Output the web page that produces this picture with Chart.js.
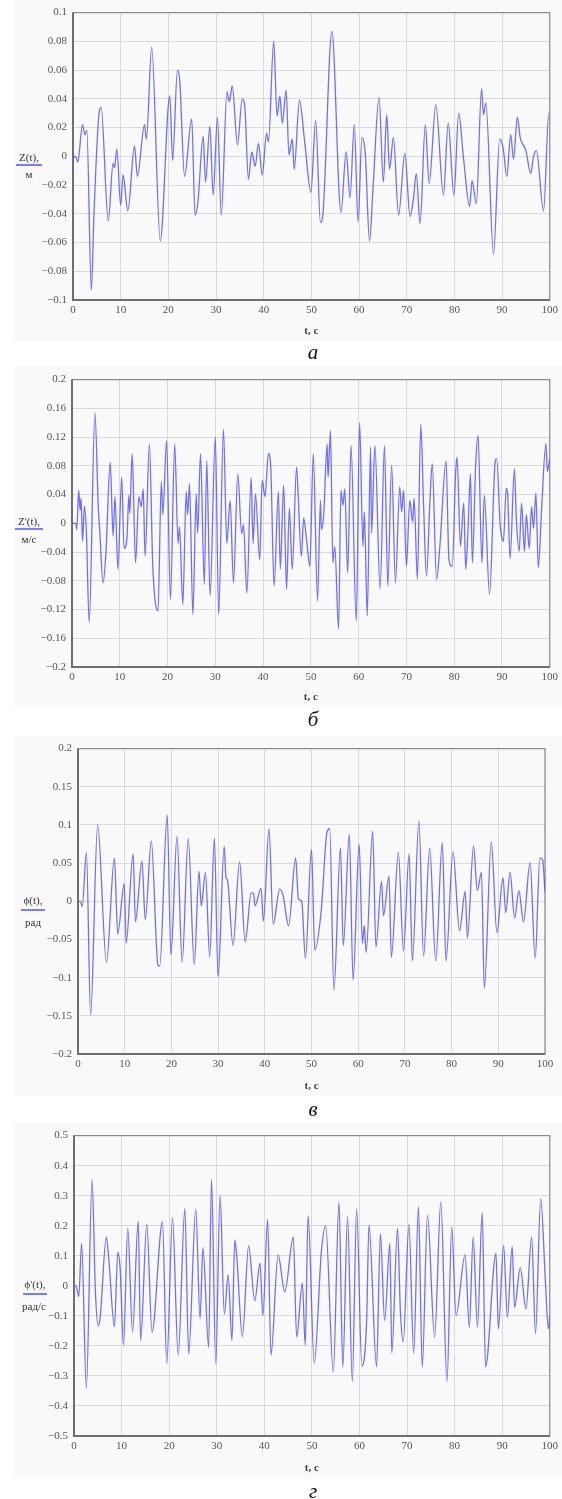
<!DOCTYPE html>
<html><head><meta charset="utf-8">
<script src="https://cdn.jsdelivr.net/npm/chart.js@4.4.0/dist/chart.umd.min.js"></script>
<style>
html,body{margin:0;padding:0;background:#fff;width:562px;height:1499px;overflow:hidden;position:relative;font-family:'Liberation Serif','DejaVu Serif',serif;}
canvas{position:absolute;}
.cap{position:absolute;font-style:italic;font-size:21px;line-height:1;transform:translate(-50%,-50%);color:#111;}
.ylab{position:absolute;font-size:11px;color:#333;line-height:1;transform:translate(-50%,-50%);white-space:nowrap;}
.ul{position:absolute;height:2px;background:#7b7bff;}
</style></head><body>
<canvas id="c1"></canvas><canvas id="c2"></canvas><canvas id="c3"></canvas><canvas id="c4"></canvas>
<div class="ylab" style="left:29px;top:157px">Z(t),</div><div class="ul" style="left:16px;top:164px;width:26px"></div><div class="ylab" style="left:29px;top:174px">м</div>
<div class="ylab" style="left:29px;top:521px">Z'(t),</div><div class="ul" style="left:15px;top:528px;width:28px"></div><div class="ylab" style="left:29px;top:539px">м/с</div>
<div class="ylab" style="left:33px;top:900px">ϕ(t),</div><div class="ul" style="left:21px;top:909px;width:24px"></div><div class="ylab" style="left:33px;top:922px">рад</div>
<div class="ylab" style="left:35px;top:1284px">ϕ'(t),</div><div class="ul" style="left:23px;top:1293px;width:24px"></div><div class="ylab" style="left:34px;top:1306px">рад/с</div>
<div class="cap" style="left:313px;top:352px">а</div>
<div class="cap" style="left:313px;top:719px">б</div>
<div class="cap" style="left:313px;top:1109px">в</div>
<div class="cap" style="left:313px;top:1491px">г</div>
<script>
// ---- data (time in s, value) ----
const tTicks = [0,10,20,30,40,50,60,70,80,90,100];
const zTicks = [-0.1,-0.08,-0.06,-0.04,-0.02,0,0.02,0.04,0.06,0.08,0.1];
const dzTicks = [-0.2,-0.16,-0.12,-0.08,-0.04,0,0.04,0.08,0.12,0.16,0.2];
const phiTicks = [-0.2,-0.15,-0.1,-0.05,0,0.05,0.1,0.15,0.2];
const dphiTicks = [-0.5,-0.4,-0.3,-0.2,-0.1,0,0.1,0.2,0.3,0.4,0.5];

const zSeries = [[0,0],[0.7,-0.001],[1.0,-0.004],[2.0,0.022],[2.5,0.015],[2.9,0.018],[3.85,-0.093],[4.4,-0.04],[5.5,0.031],[5.9,0.034],[7.4,-0.045],[8.4,-0.005],[8.7,-0.008],[9.2,0.005],[10.0,-0.034],[10.5,-0.013],[11.5,-0.038],[12.9,0.007],[13.5,-0.014],[15.0,0.022],[15.4,0.012],[16.5,0.076],[18.3,-0.059],[20.3,0.042],[20.9,-0.003],[21.9,0.060],[22.4,0.052],[23.4,-0.014],[24.9,0.026],[25.6,-0.041],[26.2,-0.032],[27.3,0.014],[27.8,-0.018],[28.7,0.021],[29.4,-0.027],[30.3,0.027],[31.1,-0.041],[32.3,0.045],[32.8,0.038],[33.4,0.049],[34.5,0.008],[35.5,0.040],[36.0,0.036],[36.8,-0.016],[37.5,0.003],[38.2,-0.007],[38.9,0.009],[39.7,-0.013],[40.6,0.016],[41.0,0.010],[42.1,0.080],[42.8,0.028],[43.4,0.042],[43.9,0.023],[44.7,0.046],[45.3,0.001],[46.0,0.012],[46.4,-0.009],[47.5,0.039],[48.6,0.010],[49.9,-0.025],[50.9,0.025],[51.9,-0.046],[52.4,-0.041],[54.3,0.087],[56.2,-0.039],[57.3,0.003],[58.1,-0.029],[59.0,0.022],[59.8,-0.046],[60.6,0.013],[61.3,0.002],[62.2,-0.059],[62.9,-0.024],[64.2,0.041],[65.1,-0.018],[65.8,0.029],[66.4,-0.009],[67.2,0.013],[68.3,-0.041],[69.6,0.002],[70.7,-0.042],[71.4,-0.030],[72.0,-0.012],[72.8,-0.047],[73.9,0.022],[74.7,-0.019],[76.1,0.036],[77.7,-0.027],[78.7,0.023],[79.9,-0.027],[80.9,0.030],[81.9,-0.001],[83.2,-0.035],[83.7,-0.017],[84.6,-0.033],[85.7,0.047],[86.1,0.029],[86.6,0.037],[88.2,-0.068],[89.5,0.012],[90.2,0.006],[91.0,-0.014],[91.8,0.015],[92.4,-0.002],[93.2,0.027],[93.8,0.013],[95.0,0.004],[96.0,-0.012],[96.6,0.0],[97.2,0.004],[98.7,-0.038],[99.8,0.030],[100,0.030]];

const dzSeries = [[0,0],[0.8,0],[1.0,-0.009],[1.4,0.046],[1.7,0.018],[1.9,0.035],[2.2,-0.025],[2.6,0.024],[3.0,-0.01],[3.6,-0.138],[4.8,0.154],[5.5,0.023],[5.8,-0.009],[6.5,-0.083],[7.1,-0.041],[8.0,0.085],[8.6,-0.018],[9.0,0.037],[9.6,-0.064],[10.4,0.064],[10.9,-0.035],[11.5,-0.021],[11.9,0.039],[12.1,0.014],[12.6,0.097],[13.3,-0.055],[14.0,0.037],[14.5,0.023],[14.9,0.048],[15.3,-0.046],[16.2,0.110],[16.9,-0.058],[18.0,-0.122],[18.7,0.058],[19.0,0.012],[19.8,0.115],[20.6,-0.106],[21.5,0.110],[22.2,-0.028],[22.5,-0.005],[23.2,-0.113],[23.9,0.044],[24.2,0.012],[24.6,0.055],[25.3,-0.127],[26.0,0.041],[26.3,-0.014],[26.9,0.097],[27.7,-0.085],[28.2,0.087],[28.9,-0.101],[30.0,0.12],[30.7,-0.127],[31.7,0.131],[32.4,-0.028],[33.1,0.032],[33.8,-0.083],[34.7,0.069],[35.5,-0.014],[35.9,-0.002],[36.6,-0.097],[37.5,0.064],[37.9,-0.028],[38.4,0.041],[39.3,-0.051],[39.8,0.060],[40.4,0.037],[41.1,0.097],[41.6,0.078],[42.3,-0.087],[43.2,0.044],[43.6,-0.064],[44.3,0.053],[44.9,-0.092],[45.5,0.021],[46.1,-0.064],[47.0,0.078],[47.3,0.046],[48.0,-0.046],[48.5,0.007],[49.1,-0.023],[49.8,-0.060],[50.5,0.097],[51.4,-0.108],[52.0,0.032],[52.2,-0.009],[52.7,0.014],[53.4,0.110],[53.6,0.064],[54.1,0.129],[54.6,-0.055],[55.0,-0.032],[55.8,-0.147],[56.3,0.046],[56.7,0.025],[57.1,0.048],[57.7,-0.069],[58.4,0.108],[59.5,-0.136],[60.2,0.140],[60.9,-0.032],[61.2,0.016],[61.8,-0.129],[62.5,0.106],[62.7,-0.014],[63.4,0.108],[64.5,-0.092],[65.4,0.108],[66.1,-0.087],[66.9,0.081],[67.7,-0.083],[68.6,0.051],[69.0,0.016],[69.4,0.046],[70.0,-0.060],[70.7,0.032],[71.3,0.002],[71.6,0.035],[72.3,-0.078],[73.0,0.138],[73.6,0.023],[74.2,-0.074],[74.9,0.028],[75.4,0.083],[76.3,-0.078],[77.0,-0.032],[78.3,0.087],[78.9,-0.051],[79.6,-0.060],[80.3,0.071],[80.6,0.092],[81.3,-0.032],[82.0,0.028],[82.4,-0.064],[82.9,-0.009],[83.4,0.069],[83.8,-0.055],[84.5,0.083],[85.0,0.122],[85.8,-0.055],[86.3,0.039],[87.4,-0.099],[88.6,0.087],[88.9,0.090],[89.6,0],[89.9,-0.018],[90.3,-0.025],[90.9,0.049],[91.2,0.039],[91.7,-0.049],[92.6,0.076],[93.0,0.007],[93.6,-0.039],[94.1,0.028],[94.7,-0.039],[95.1,0.012],[95.7,-0.035],[96.2,0.023],[96.6,-0.007],[97.1,0.042],[97.6,-0.062],[98.3,0.021],[99.2,0.111],[99.5,0.072],[100,0.09]];

const phiSeries = [[0,0],[0.5,0],[0.9,-0.007],[1.8,0.064],[2.7,-0.149],[4.2,0.100],[6.1,-0.080],[7.8,0.057],[8.5,-0.043],[9.9,0.023],[10.3,-0.055],[11.8,0.062],[12.3,-0.027],[13.7,0.053],[14.4,-0.024],[15.7,0.079],[17.1,-0.083],[17.5,-0.085],[19.1,0.113],[19.9,-0.070],[21.2,0.085],[22.3,-0.080],[23.6,0.082],[24.9,-0.083],[25.9,0.039],[26.4,-0.006],[27.3,0.038],[28.2,-0.073],[29.2,0.083],[30.0,-0.099],[31.3,0.072],[31.7,0.031],[32.0,0.028],[33.2,-0.058],[34.6,0.052],[35.8,-0.053],[37.1,0.011],[37.6,0.010],[37.9,-0.006],[39.2,0.017],[39.7,-0.026],[40.9,0.095],[41.8,-0.030],[43.2,0.016],[43.9,0.008],[45.1,-0.032],[46.6,0.057],[47.2,0.003],[47.9,0.0],[48.7,-0.075],[50.0,0.068],[50.7,-0.064],[52.1,-0.011],[53.3,0.090],[53.9,0.095],[54.8,-0.116],[56.2,0.070],[56.8,-0.058],[58.1,0.088],[58.9,-0.103],[60.2,0.075],[60.9,-0.055],[61.3,-0.032],[61.7,-0.067],[63.1,0.092],[63.8,-0.060],[65.0,0.026],[65.4,-0.019],[66.6,0.033],[67.1,-0.073],[68.6,0.064],[69.7,-0.065],[70.9,0.062],[71.6,-0.078],[73.0,0.105],[74.0,-0.072],[75.3,0.070],[76.6,-0.078],[78.0,0.077],[78.8,-0.078],[80.3,0.065],[81.7,-0.039],[82.9,0.013],[83.4,-0.048],[84.7,0.073],[85.5,0.014],[86.4,0.038],[87.0,-0.114],[88.5,0.078],[89.7,-0.041],[91.0,0.031],[91.6,-0.015],[92.5,0.038],[93.5,-0.022],[94.4,0.014],[95.4,-0.027],[96.8,0.051],[97.9,-0.075],[98.9,0.057],[99.5,0.054],[100,0.012]];

const dphiSeries = [[0,0],[0.4,0],[1.0,-0.035],[1.6,0.141],[2.6,-0.341],[3.8,0.354],[4.5,-0.02],[5.1,-0.133],[5.5,-0.105],[6.8,0.163],[7.3,0.092],[8.5,-0.136],[9.2,0.111],[9.7,0.058],[10.4,-0.198],[11.3,0.191],[12.3,-0.154],[13.5,0.216],[14.0,-0.182],[15.3,0.204],[16.4,-0.154],[18.6,0.213],[19.5,-0.259],[20.7,0.227],[21.9,-0.231],[23.3,0.257],[24.1,-0.226],[25.6,0.255],[26.5,-0.11],[27.1,0.127],[28.3,-0.205],[28.9,0.354],[29.8,-0.259],[30.7,0.301],[31.6,-0.094],[32.4,0.036],[33.2,-0.182],[33.8,0.152],[34.2,0.10],[35.4,-0.169],[36.7,0.134],[38.0,-0.05],[39.1,0.075],[39.7,-0.099],[40.7,0.222],[41.4,-0.231],[42.9,0.103],[44.3,-0.02],[46.1,0.163],[46.8,-0.171],[48.0,0.01],[48.6,-0.198],[49.2,0.233],[50.5,-0.257],[52.0,0.114],[52.9,0.200],[54.5,-0.286],[55.7,0.277],[56.5,-0.270],[57.5,0.230],[58.5,-0.319],[59.4,0.255],[60.5,-0.267],[61.5,-0.121],[62.0,0.202],[63.6,-0.270],[64.4,0.174],[65.3,-0.116],[66.4,0.141],[66.8,-0.224],[68.0,0.191],[68.6,-0.083],[69.2,-0.187],[70.4,0.204],[71.4,-0.224],[72.4,0.263],[73.2,-0.270],[74.3,0.235],[75.8,-0.171],[77.1,0.279],[78.4,-0.319],[79.4,0.196],[80.3,-0.099],[82.2,0.103],[83.1,-0.138],[83.9,0.163],[84.8,-0.138],[85.8,0.244],[86.5,-0.270],[88.7,0.108],[89.2,-0.143],[90.3,0.134],[91.1,-0.105],[92.1,0.130],[92.6,-0.072],[93.8,0.060],[95.0,-0.077],[96.2,0.163],[97.0,-0.160],[98.1,0.290],[99.1,0.01],[99.7,-0.143],[100,-0.10]];

// ---- chart construction ----
function fmt(v){ if (Math.abs(v) < 1e-9) return '0'; return (v < 0 ? '\u2212' : '') + String(Math.abs(v)); }

const framePlugin = {
  id: 'frame',
  beforeDraw(chart){ const c = chart.ctx; c.save(); c.fillStyle = '#f9f9f9'; c.fillRect(0,0,chart.width,chart.height); c.restore(); },
  beforeDatasetsDraw(chart){
    const a = chart.chartArea, c = chart.ctx; c.save();
    c.strokeStyle = '#8a8a8a'; c.lineWidth = 1.2; c.strokeRect(a.left, a.top, a.right-a.left, a.bottom-a.top);
    c.strokeStyle = '#6e6e6e'; c.lineWidth = 2; c.beginPath();
    c.moveTo(a.left, a.top); c.lineTo(a.left, a.bottom); c.lineTo(a.right, a.bottom); c.stroke();
    c.restore();
  }
};

function makeChart(id, series, yTicks, g){
  const cv = document.getElementById(id);
  const canvasLeft = 14, canvasTop = g.top - 10;
  const W = 562 - canvasLeft, H = (g.title + 10) - canvasTop;
  cv.width = W; cv.height = H; cv.style.left = canvasLeft + 'px'; cv.style.top = canvasTop + 'px';
  const plotH = g.bottom - g.top;
  new Chart(cv, {
    type: 'line',
    data: { datasets: [{ data: series.map(p => ({x: p[0], y: p[1]})), borderColor: 'rgba(72,72,255,0.78)', borderWidth: 1.3,
      pointRadius: 0, cubicInterpolationMode: 'monotone', fill: false }] },
    options: {
      responsive: false, animation: false, devicePixelRatio: 1,
      layout: { padding: { top: 10, right: 562 - g.right, left: 0, bottom: 0 } },
      plugins: { legend: { display: false }, tooltip: { enabled: false } },
      scales: {
        x: { type: 'linear', min: 0, max: 100,
          afterBuildTicks: s => { s.ticks = tTicks.map(v => ({value: v})); },
          afterFit: s => { s.height = H - 10 - plotH; },
          grid: { color: '#dadada', lineWidth: 1, drawTicks: false },
          border: { display: false },
          ticks: { padding: 4, color: '#555', font: { family: 'Liberation Serif', size: 11 }, maxRotation: 0, autoSkip: false, callback: v => String(v) },
          title: { display: true, text: 't, c', color: '#444', padding: { top: 0, bottom: 3 }, font: { family: 'Liberation Serif', size: 11, weight: 'bold' } } },
        y: { type: 'linear', min: yTicks[0], max: yTicks[yTicks.length-1],
          afterBuildTicks: s => { s.ticks = yTicks.map(v => ({value: v})); },
          afterFit: s => { s.width = g.left - canvasLeft; },
          grid: { color: '#dadada', lineWidth: 1, drawTicks: false },
          border: { display: false },
          ticks: { padding: 6, color: '#555', font: { family: 'Liberation Serif', size: 11 }, autoSkip: false, callback: v => fmt(v) } }
      }
    },
    plugins: [framePlugin]
  });
}

makeChart('c1', zSeries, zTicks, { left: 73, right: 550, top: 10, bottom: 300, title: 331 });
makeChart('c2', dzSeries, dzTicks, { left: 72, right: 551, top: 377, bottom: 667, title: 697 });
makeChart('c3', phiSeries, phiTicks, { left: 78, right: 545, top: 746, bottom: 1054, title: 1086 });
makeChart('c4', dphiSeries, dphiTicks, { left: 74, right: 551, top: 1133, bottom: 1436, title: 1468 });
</script>
</body></html>
